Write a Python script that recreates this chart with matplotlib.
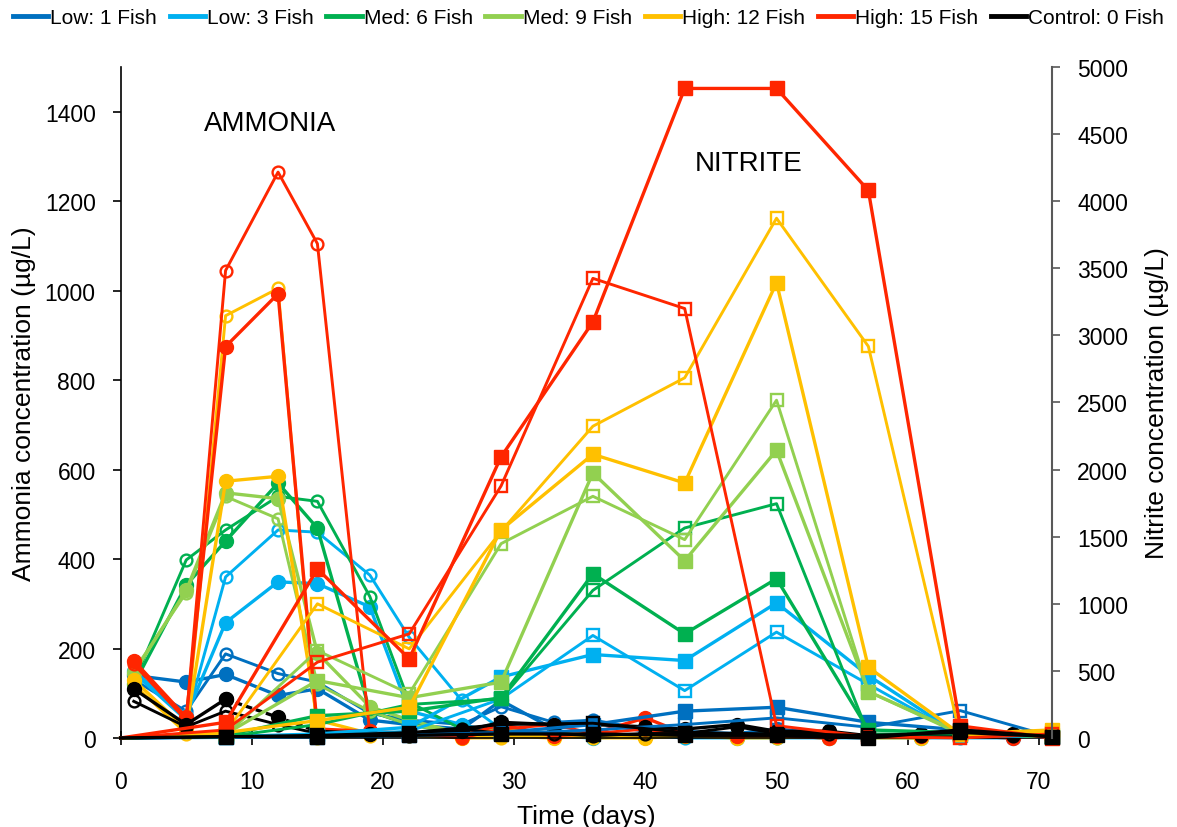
import matplotlib
matplotlib.use("Agg")
import matplotlib.pyplot as plt
from matplotlib.lines import Line2D

plt.rcParams.update({
    "font.family": ["Liberation Sans", "DejaVu Sans"],
    "font.size": 16,
})

# sampling days
AMM_DAYS = [1, 5, 8, 12, 15, 19, 22, 26, 29, 33, 36, 40, 43, 47, 50, 54, 57, 61, 64, 68]
NIT_DAYS = [0, 8, 15, 22, 29, 36, 43, 50, 57, 64, 71]

LABELS = ["Low: 1 Fish", "Low: 3 Fish", "Med: 6 Fish", "Med: 9 Fish",
          "High: 12 Fish", "High: 15 Fish", "Control: 0 Fish"]
COLORS = ["#0070C0", "#00B0F0", "#00B050", "#92D050", "#FFC000", "#FF2600", "#000000"]

# ammonia (ug/L), replicate A = filled markers, replicate B = open markers
amm_low1_a = [140, 125, 142, 95, 110, 40, 30, 20, 84, 20, 35, 15, 10, 10, 20, 10, 5, 5, 10, 5]
amm_low1_b = [130, 60, 188, 144, 125, 55, 40, 30, 70, 35, 40, 20, 15, 10, 15, 10, 5, 5, 10, 5]
amm_low3_a = [150, 50, 258, 349, 345, 293, 60, 30, 10, 5, 0, 5, 10, 0, 5, 0, 5, 0, 5, 0]
amm_low3_b = [145, 40, 360, 465, 460, 364, 225, 84, 20, 5, 5, 5, 0, 0, 0, 0, 0, 0, 0, 0]
amm_med6_a = [120, 342, 440, 570, 469, 60, 30, 10, 20, 10, 5, 5, 5, 5, 10, 5, 5, 5, 5, 5]
amm_med6_b = [125, 398, 465, 540, 529, 316, 80, 20, 10, 5, 5, 5, 5, 5, 5, 5, 5, 5, 5, 5]
amm_med9_a = [145, 330, 548, 535, 190, 70, 40, 10, 20, 10, 5, 5, 10, 5, 5, 5, 5, 5, 5, 5]
amm_med9_b = [150, 325, 540, 490, 120, 60, 30, 10, 10, 5, 5, 5, 5, 5, 5, 5, 5, 5, 5, 5]
amm_high12_a = [130, 20, 574, 585, 40, 10, 10, 0, 5, 0, 5, 0, 5, 0, 5, 0, 5, 0, 5, 10]
amm_high12_b = [120, 10, 944, 1005, 0, 5, 5, 0, 0, 5, 0, 0, 5, 0, 0, 5, 0, 0, 5, 10]
amm_high15_a = [173, 46, 875, 993, 20, 15, 10, 5, 30, 5, 10, 45, 10, 5, 5, 0, 5, 5, 5, 0]
amm_high15_b = [165, 40, 1045, 1265, 1105, 10, 10, 0, 20, 30, 10, 20, 5, 5, 10, 5, 5, 5, 5, 5]
amm_ctrl_a = [110, 30, 87, 46, 15, 10, 10, 15, 35, 30, 30, 25, 20, 30, 15, 15, 5, 10, 10, 10]
amm_ctrl_b = [82, 25, 60, 30, 10, 10, 5, 20, 10, 10, 5, 10, 10, 25, 10, 10, 5, 5, 5, 5]

# nitrite (ug/L)
nit_low1_a = [0, 5, 10, 20, 40, 100, 200, 229, 117, 60, 10]
nit_low1_b = [0, 5, 10, 20, 30, 60, 100, 150, 80, 204, 10]
nit_low3_a = [0, 10, 30, 80, 455, 622, 577, 1007, 465, 20, 10]
nit_low3_b = [0, 5, 20, 50, 291, 764, 353, 789, 400, 20, 10]
nit_med6_a = [0, 20, 166, 200, 300, 1224, 776, 1187, 60, 40, 10]
nit_med6_b = [0, 10, 100, 250, 291, 1100, 1565, 1746, 30, 30, 10]
nit_med9_a = [0, 30, 428, 300, 416, 1975, 1321, 2144, 346, 40, 20]
nit_med9_b = [0, 20, 651, 330, 1448, 1801, 1478, 2517, 346, 30, 10]
nit_high12_a = [0, 40, 130, 229, 1550, 2114, 1900, 3393, 527, 30, 60]
nit_high12_b = [0, 40, 1000, 664, 1540, 2323, 2684, 3873, 2918, 20, 40]
nit_high15_a = [0, 117, 1260, 590, 2095, 3100, 4840, 4840, 4080, 90, 0]
nit_high15_b = [0, 60, 565, 776, 1878, 3425, 3200, 92, 10, 0, 30]
nit_ctrl_a = [0, 10, 10, 20, 30, 30, 20, 20, 0, 60, 10]
nit_ctrl_b = [0, 10, 20, 40, 100, 110, 40, 30, 20, 40, 10]

AMM = [(amm_low1_a, amm_low1_b), (amm_low3_a, amm_low3_b), (amm_med6_a, amm_med6_b),
       (amm_med9_a, amm_med9_b), (amm_high12_a, amm_high12_b),
       (amm_high15_a, amm_high15_b), (amm_ctrl_a, amm_ctrl_b)]
NIT = [(nit_low1_a, nit_low1_b), (nit_low3_a, nit_low3_b), (nit_med6_a, nit_med6_b),
       (nit_med9_a, nit_med9_b), (nit_high12_a, nit_high12_b),
       (nit_high15_a, nit_high15_b), (nit_ctrl_a, nit_ctrl_b)]


def series(ax, x, y, color, marker, filled, ls="-", markevery=None):
    if filled:
        ax.plot(x, y, ls=ls, color=color, lw=2.4, marker=marker, markevery=markevery,
                ms=10 if marker == "o" else 10.5, mfc=color, mec=color, clip_on=False)
    else:
        ax.plot(x, y, ls=ls, color=color, lw=2.1, marker=marker, markevery=markevery,
                ms=8.5 if marker == "o" else 9, mfc="none", mec=color, mew=1.7,
                clip_on=False)


fig = plt.figure(figsize=(11.77, 8.28), dpi=100)
ax = fig.add_axes([0.1025, 0.1075, 0.7913, 0.8104])
ax2 = ax.twinx()

for (ya, yb), c in zip(AMM, COLORS):
    if c == "#000000":
        # control: filled replicate drawn dashed between days 8 and 15
        series(ax, AMM_DAYS[:3], ya[:3], c, "o", True)
        series(ax, AMM_DAYS[2:5], ya[2:5], c, "o", True, ls=(0, (2, 1.2)))
        series(ax, AMM_DAYS[4:], ya[4:], c, "o", True)
    else:
        series(ax, AMM_DAYS, ya, c, "o", True)
    series(ax, AMM_DAYS, yb, c, "o", False)

# no marker on the day-0 nitrite start
for (ya, yb), c in zip(NIT, COLORS):
    series(ax2, NIT_DAYS, ya, c, "s", True, markevery=slice(1, None))
    series(ax2, NIT_DAYS, yb, c, "s", False, markevery=slice(1, None))

ax.set_xlim(0, 71)
ax.set_ylim(0, 1500)
ax2.set_ylim(0, 5000)
ax.set_xticks(range(0, 71, 10))
ax.set_yticks(range(0, 1401, 200))
ax2.set_yticks(range(0, 5001, 500))

for a in (ax, ax2):
    a.spines["top"].set_visible(False)
ax2.spines["left"].set_visible(False)
ax2.spines["bottom"].set_visible(False)
ax.spines["right"].set_visible(False)
ax2.spines["right"].set_color("#595959")
ax2.spines["right"].set_linewidth(1.5)
ax.spines["left"].set_linewidth(1.2)
ax.spines["bottom"].set_linewidth(1.2)

ax.tick_params(axis="x", direction="inout", length=10, width=1.2, labelsize=16.5, pad=18)
ax.tick_params(axis="y", direction="out", length=6, width=1.2, labelsize=16.5, pad=12)
ax2.tick_params(axis="y", direction="out", length=6, width=1.2, color="#595959",
                labelsize=16.5, pad=12)

ax.set_xlabel("Time (days)", fontsize=19, labelpad=8)
ax.set_ylabel("Ammonia concentration (µg/L)", fontsize=19, labelpad=6)
ax2.set_ylabel("Nitrite concentration (µg/L)", fontsize=19, labelpad=12)

ax.text(11.4, 1375, "AMMONIA", fontsize=20, ha="center", va="center")
ax.text(47.9, 1286, "NITRITE", fontsize=20, ha="center", va="center")

handles = [Line2D([0], [0], color=c, lw=3.5) for c in COLORS]
fig.legend(handles, LABELS, loc="upper center", bbox_to_anchor=(0.5, 1.012), ncol=7,
           frameon=False, handlelength=1.7, handletextpad=0.1, columnspacing=0.6,
           fontsize=15)

fig.savefig("out.png", dpi=100)
